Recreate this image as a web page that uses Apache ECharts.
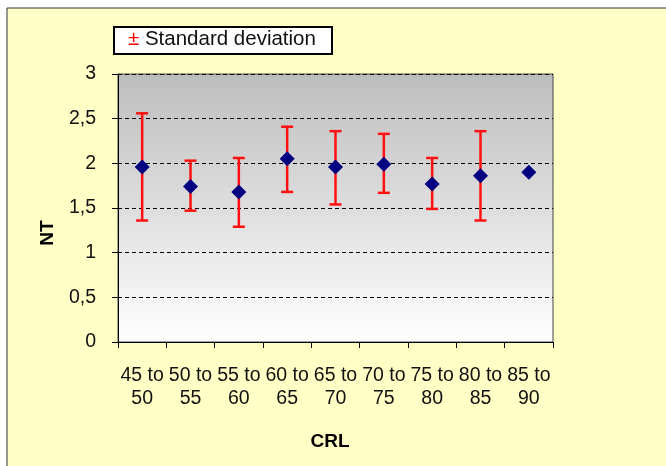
<!DOCTYPE html>
<html>
<head>
<meta charset="utf-8">
<script src="https://cdn.jsdelivr.net/npm/echarts@6/dist/echarts.min.js"></script>
<style>
html,body{margin:0;padding:0;background:#fff;}
#c{width:666px;height:466px;}
</style>
</head>
<body>
<div id="c"></div>
<script>
var categories = ['45 to\n50','50 to\n55','55 to\n60','60 to\n65','65 to\n70','70 to\n75','75 to\n80','80 to\n85','85 to\n90'];
var means = [1.96, 1.74, 1.68, 2.05, 1.96, 1.99, 1.77, 1.86, 1.90];
var sdLow = [1.36, 1.47, 1.29, 1.68, 1.54, 1.67, 1.49, 1.36, null];
var sdHigh = [2.56, 2.03, 2.06, 2.41, 2.36, 2.33, 2.06, 2.36, null];
var yTicks = [0, 0.5, 1, 1.5, 2, 2.5, 3];

var FONT = '"Liberation Sans", Arial, sans-serif';
var chart = echarts.init(document.getElementById('c'), null, {renderer: 'canvas'});

var errData = [];
for (var i = 0; i < categories.length; i++) {
  if (sdLow[i] != null) errData.push([i, sdLow[i], sdHigh[i]]);
}

chart.setOption({
  animation: false,
  backgroundColor: '#ffffff',
  graphic: [
    {type: 'rect', z: -10, shape: {x: 7, y: 8, width: 700, height: 500},
     style: {fill: '#FFFFC6', stroke: '#333', lineWidth: 1}},
    {type: 'rect', z: 10, shape: {x: 114, y: 27, width: 218, height: 27},
     style: {fill: '#fff', stroke: '#000', lineWidth: 2}},
    {type: 'text', z: 11, left: 128, top: 29,
     style: {text: '{r|±} Standard deviation', font: '20.5px ' + FONT, fill: '#111',
       rich: {r: {fill: '#ff0000', font: '20.5px ' + FONT}}}},
    {type: 'text', z: 11, x: 48, y: 233, rotation: Math.PI / 2,
     style: {text: 'NT', font: 'bold 19px ' + FONT, fill: '#000', align: 'center', verticalAlign: 'middle'}},
    {type: 'text', z: 11, x: 330, y: 442,
     style: {text: 'CRL', font: 'bold 19px ' + FONT, fill: '#000', align: 'center', verticalAlign: 'middle'}}
  ],
  grid: {
    left: 118, right: 113, top: 74, bottom: 124,
    show: true,
    borderColor: '#444', borderWidth: 1,
    backgroundColor: new echarts.graphic.LinearGradient(0, 0, 0, 1, [
      {offset: 0, color: '#BDBDBD'},
      {offset: 1, color: '#FFFFFF'}
    ])
  },
  xAxis: {
    type: 'category',
    data: categories,
    boundaryGap: true,
    axisLine: {lineStyle: {color: '#000', width: 1}},
    axisTick: {show: true, length: 6, interval: 0, lineStyle: {color: '#000'}},
    axisLabel: {interval: 0, margin: 22, color: '#111', fontSize: 19.5, fontFamily: FONT, lineHeight: 23, align: 'center'},
    splitLine: {show: false}
  },
  yAxis: {
    type: 'value',
    min: yTicks[0], max: yTicks[yTicks.length - 1], interval: 0.5,
    axisLine: {show: true, lineStyle: {color: '#000', width: 1}},
    axisTick: {show: true, length: 6, lineStyle: {color: '#000'}},
    axisLabel: {margin: 22, color: '#111', fontSize: 19.5, fontFamily: FONT,
      formatter: function (v) { return String(v).replace('.', ','); }},
    splitLine: {show: true, lineStyle: {color: '#000', type: [4, 3], width: 1}}
  },
  series: [
    {
      type: 'custom',
      data: errData,
      z: 2,
      renderItem: function (params, api) {
        var x = api.value(0);
        var lo = api.coord([x, api.value(1)]);
        var hi = api.coord([x, api.value(2)]);
        var hw = 6;
        var st = {stroke: '#ff1010', lineWidth: 2.5};
        return {type: 'group', children: [
          {type: 'line', shape: {x1: lo[0], y1: lo[1], x2: hi[0], y2: hi[1]}, style: st},
          {type: 'line', shape: {x1: lo[0] - hw, y1: lo[1], x2: lo[0] + hw, y2: lo[1]}, style: st},
          {type: 'line', shape: {x1: hi[0] - hw, y1: hi[1], x2: hi[0] + hw, y2: hi[1]}, style: st}
        ]};
      }
    },
    {
      type: 'scatter',
      data: means,
      z: 3,
      symbol: 'diamond',
      symbolSize: [15, 15],
      itemStyle: {color: '#000080', opacity: 1}
    }
  ]
});
</script>
</body>
</html>
